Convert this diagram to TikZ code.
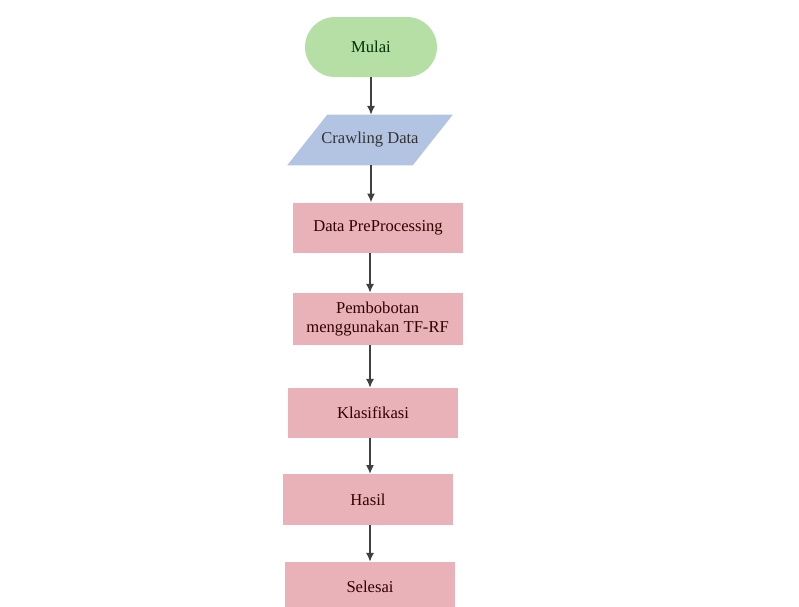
\documentclass[tikz,border=0pt]{standalone}
\usepackage{fontspec}
\setmainfont{Liberation Serif}
\usetikzlibrary{arrows.meta,backgrounds}
\definecolor{startgreen}{HTML}{B5DFA5}
\definecolor{ioblue}{HTML}{B3C4E2}
\definecolor{procpink}{HTML}{E8B2B8}
\definecolor{linegray}{HTML}{404040}
\tikzset{
  startstop/.style={fill=startgreen, rounded corners=7.5mm, minimum width=3.3cm, minimum height=1.5cm, text=black!80!green},
  iobox/.style={minimum width=3.125cm, minimum height=1.25cm, text=black!80},
  procbox/.style={fill=procpink, minimum width=4.25cm, minimum height=1.25cm, align=center, text=black!80!red},
  flow/.style={draw=linegray, line width=0.9pt, -{Latex[length=2.2mm,width=2mm]}}
}
\begin{document}
\begin{tikzpicture}[font=\fontsize{11.8}{14}\selectfont]
  \useasboundingbox (0,0) rectangle (19.975,-15.15);
  \draw
    (9.275,-1.175) node[startstop] (mulai){Mulai}
    (9.25,-3.5) node[iobox] (crawling){Crawling Data}
    (9.45,-5.69) node[procbox] (preproc){Data PreProcessing}
    (9.44,-7.975) node[procbox, minimum height=1.3cm] (bobot){Pembobotan\\menggunakan TF-RF}
    (9.325,-10.325) node[procbox] (klasifikasi){Klasifikasi}
    (9.2,-12.49) node[procbox, minimum height=1.275cm] (hasil){Hasil}
    (9.25,-14.675) node[procbox] (selesai){Selesai};
  % parallelogram behind the input node
  \begin{scope}[on background layer]
    \fill[ioblue] ([xshift=-5mm]crawling.south west) -- ([xshift=5mm]crawling.north west)
      -- ([xshift=5mm]crawling.north east) -- ([xshift=-5mm]crawling.south east) -- cycle;
  \end{scope}
  \begin{scope}[flow]
    \draw (mulai.south) to (crawling.north -| mulai);
    \draw (crawling.south -| mulai) to (preproc.north -| mulai);
    \draw (preproc.south -| crawling) to (bobot.north -| crawling);
    \draw (bobot.south -| crawling) to (klasifikasi.north -| crawling);
    \draw (klasifikasi.south -| crawling) to (hasil.north -| crawling);
    \draw (hasil.south -| crawling) to (selesai.north -| crawling);
  \end{scope}
\end{tikzpicture}
\end{document}
